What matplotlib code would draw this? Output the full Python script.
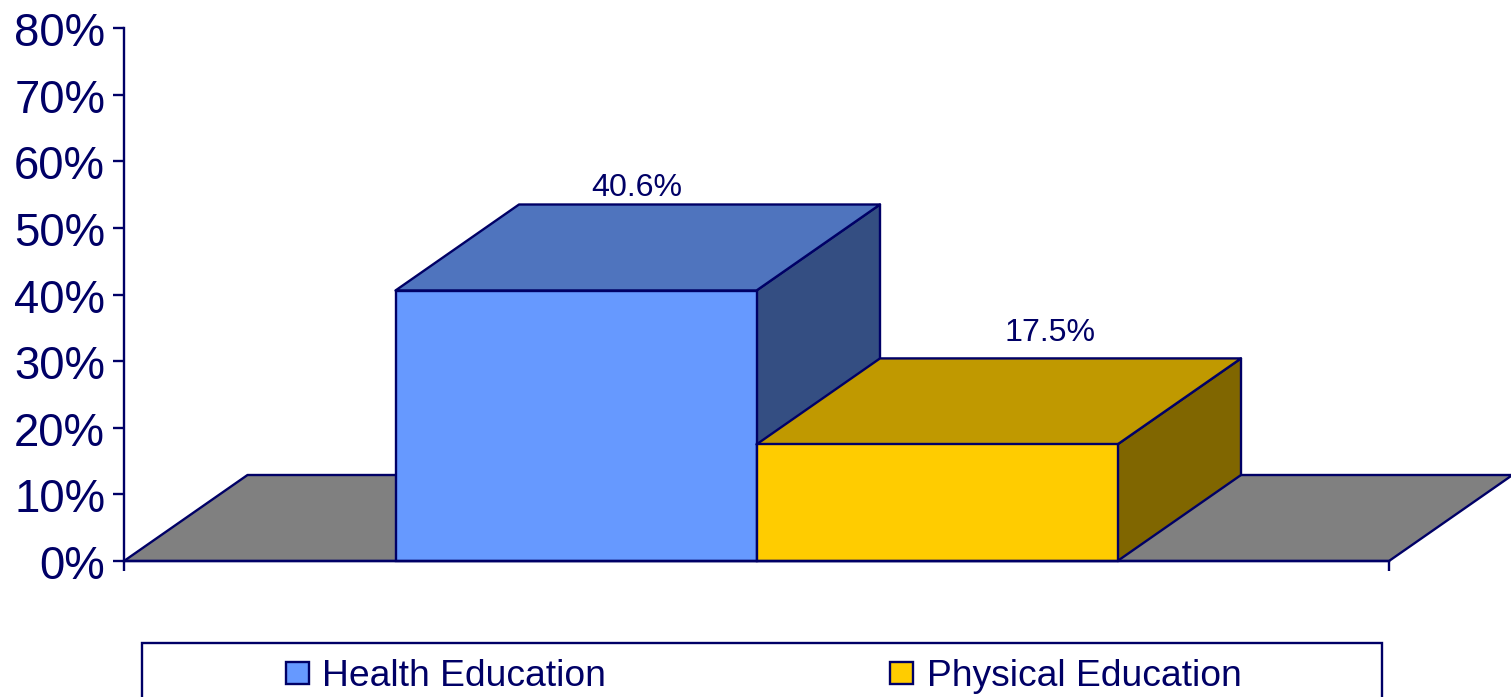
import matplotlib
matplotlib.use("Agg")
import matplotlib.pyplot as plt
from matplotlib.patches import Polygon, Rectangle
from matplotlib.ticker import PercentFormatter
from matplotlib.transforms import ScaledTranslation

plt.rcParams['font.family'] = ['Liberation Sans', 'DejaVu Sans']

categories = ["Health Education", "Physical Education"]
values = [40.6, 17.5]
y_ticks = [0, 10, 20, 30, 40, 50, 60, 70, 80]

NAVY = "#000066"
front = ["#6699FF", "#FFCC00"]
top = ["#4F74BE", "#C09900"]
side = ["#344E82", "#806600"]
FLOOR = "#808080"
label_offset_px = [(61, 103), (113, 111)]

W, H = 1511, 697
fig = plt.figure(figsize=(W / 100, H / 100), dpi=100, facecolor="white")
L, R, T, B = 124, 1389, 28, 561
ax = fig.add_axes([L / W, 1 - B / H, (R - L) / W, (B - T) / H])
ax.patch.set_visible(False)

bar_px = 361.0
half = (R - L) / bar_px / 2
ax.set_xlim(-half, half)
ax.set_ylim(0, 80)
depth_x = 123.5 / bar_px
depth_y = 86 / ((B - T) / 80)
LW = 1.7

def face(pts, color, z):
    ax.add_patch(Polygon(pts, closed=True, facecolor=color, edgecolor=NAVY,
                         linewidth=LW, joinstyle="round", clip_on=False, zorder=z))

face([(-half, 0), (-half + depth_x, depth_y), (half + depth_x, depth_y), (half, 0)], FLOOR, 1)

for i, v in enumerate(values):
    x0 = i - 1
    x1 = i
    z = 2 + i
    face([(x1, 0), (x1 + depth_x, depth_y), (x1 + depth_x, v + depth_y), (x1, v)], side[i], z)
    face([(x0, v), (x0 + depth_x, v + depth_y), (x1 + depth_x, v + depth_y), (x1, v)], top[i], z)
    ax.bar(x0 + 0.5, v, width=1, color=front[i], edgecolor=NAVY, linewidth=LW, zorder=z, clip_on=False)
    ox, oy = label_offset_px[i]
    ax.annotate(f"{v:.1f}%", xy=(x0 + 0.5, v), xytext=(ox * 0.72, oy * 0.72),
                textcoords="offset points", ha="center", va="center",
                fontsize=23.1, color=NAVY, annotation_clip=False, zorder=10)

for s in ("top", "right"):
    ax.spines[s].set_visible(False)
for s in ("left", "bottom"):
    ax.spines[s].set_color(NAVY)
    ax.spines[s].set_linewidth(LW)
    ax.spines[s].set_zorder(6)

ax.set_yticks(y_ticks)
ax.yaxis.set_major_formatter(PercentFormatter(100, decimals=0))
ax.tick_params(axis="y", length=8, width=LW, color=NAVY, labelcolor=NAVY, labelsize=32.8, pad=5.5)
shift = ScaledTranslation(0, -1 / 100, fig.dpi_scale_trans)
for lab in ax.get_yticklabels():
    lab.set_transform(lab.get_transform() + shift)
ax.set_xticks([-half, half])
ax.set_xticklabels(["", ""])
ax.tick_params(axis="x", length=7.5, width=LW, color=NAVY)

# Legend frame runs past the lower edge of the figure
fig.add_artist(Rectangle((142 / W, 1 - 720 / H), (1382 - 142) / W, (720 - 643) / H,
                         transform=fig.transFigure, facecolor="white", edgecolor=NAVY, linewidth=LW))
legend_x = [(286, 322), (890, 927)]
for i, name in enumerate(categories):
    hx, tx = legend_x[i]
    fig.add_artist(Rectangle((hx / W, 1 - 684 / H), 23 / W, 22 / H, transform=fig.transFigure,
                             facecolor=front[i], edgecolor=NAVY, linewidth=LW))
    fig.text(tx / W, 1 - 676.5 / H, name, ha="left", va="center", fontsize=26.85, color=NAVY)

fig.savefig("out.png", dpi=100)
